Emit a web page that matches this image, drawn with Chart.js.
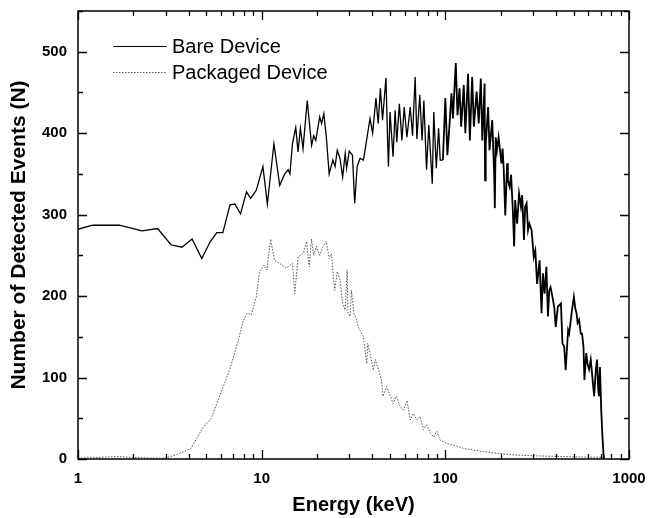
<!DOCTYPE html>
<html>
<head>
<meta charset="utf-8">
<script src="https://cdn.jsdelivr.net/npm/chart.js@4"></script>
<style>
  html, body { margin: 0; padding: 0; background: #fff; }
  #chart { width: 648px; height: 518px; }
</style>
</head>
<body>
<div id="chart"><canvas id="spectrum" width="648" height="518"></canvas></div>
<script>
// values (energy in keV, counts N)
const bareEnergy = [1.0, 1.2, 1.68, 2.23, 2.71, 3.21, 3.68, 4.18, 4.72, 5.25,
  5.7, 6.15, 6.72, 7.15, 7.67, 8.27, 8.71, 9.35, 10.16, 10.74,
  11.66, 12.54, 13.35, 13.93, 14.25, 14.71, 15.33, 15.78, 16.25, 16.8,
  17.7, 18.7, 19.2, 19.7, 20.7, 21.2, 21.8, 22.5, 23.3, 24.4,
  25.1, 25.8, 26.7, 27.6, 28.5, 29.0, 30.0, 31.2, 32.1, 33.1,
  34.3, 35.8, 36.9, 38.9, 40.2, 41.9, 43.1, 44.3, 45.5, 47.5,
  48.5, 49.0, 50.0, 51.9, 53.3, 54.4, 56.2, 58.0, 59.7, 61.8,
  64.4, 66.3, 68.5, 70.0, 72.6, 74.7, 76.4, 79.0, 81.3, 84.9,
  86.5, 89.3, 91.9, 93.8, 97.0, 100, 102.6, 105.5, 108, 110,
  114, 116.5, 119.5, 122, 126, 128.5, 133, 136, 140, 143,
  148, 152, 156, 159, 163.6, 164.5, 166, 171, 174, 180,
  184.5, 186, 188, 191, 195, 202, 205, 208, 212, 217,
  219, 224, 228, 233, 237, 240, 246, 252, 258, 262,
  268, 272, 277, 282, 287, 295, 303, 309, 316, 326,
  334, 340, 347, 355, 362, 368, 374, 383, 392, 399,
  410, 426, 434, 444, 452, 466, 472, 480, 487, 501,
  510, 518, 525, 535, 546, 555, 565, 572, 585, 594,
  606, 619, 632, 646, 660, 670, 680, 686, 695, 700,
  706, 716, 727, 730];
const bareCounts = [282, 287, 287, 280, 283, 263, 260, 270, 246, 267,
  278, 278, 312, 313, 301, 328, 320, 330, 359, 313,
  387, 336, 350, 355, 350, 387, 407, 377, 406, 381,
  440, 385, 397, 391, 420, 412, 424, 395, 350, 367,
  359, 379, 369, 346, 375, 357, 378, 373, 314, 359,
  369, 367, 385, 418, 400, 443, 412, 455, 416, 468,
  391, 359, 426, 371, 428, 389, 436, 391, 432, 395,
  432, 397, 469, 393, 447, 391, 440, 355, 410, 338,
  426, 357, 406, 367, 367, 443, 373, 412, 449, 418,
  486, 422, 455, 408, 459, 400, 473, 391, 469, 408,
  451, 412, 467, 391, 461, 342, 387, 432, 379, 416,
  348, 308, 395, 379, 395, 363, 381, 355, 299, 363,
  342, 334, 349, 306, 261, 318, 289, 326, 310, 324,
  269, 310, 314, 281, 289, 281, 248, 256, 215, 244,
  179, 228, 203, 236, 175, 207, 211, 199, 186, 162,
  187, 191, 142, 138, 109, 158, 154, 167, 179, 199,
  185, 179, 167, 171, 154, 154, 138, 97, 130, 117,
  110, 122, 100, 77, 110, 122, 85, 77, 113, 89,
  60, 30, 5, 0];

const packEnergy = [1.0, 1.3, 1.6, 2.0, 2.5, 2.95, 3.42, 4.12, 4.77, 5.31,
  5.9, 6.68, 7.43, 7.92, 8.32, 8.78, 9.35, 9.74, 10.28, 10.68,
  11.18, 11.75, 12.54, 13.62, 14.71, 15.14, 15.79, 16.83, 17.56, 18.15,
  18.68, 19.2, 19.9, 20.7, 21.6, 22.5, 23.3, 24.0, 24.4, 25.0,
  25.8, 26.7, 27.6, 28.5, 29.2, 29.5, 30.3, 30.8, 31.8, 32.8,
  33.6, 34.3, 35.8, 37.3, 37.8, 38.9, 40.5, 41.5, 43.6, 44.9,
  45.8, 48.0, 49.5, 52.0, 54.0, 56.9, 59.2, 61.8, 64.4, 67.1,
  70.0, 73.0, 76.0, 79.4, 82.7, 86.3, 89.7, 93.8, 101.9, 111,
  126, 142, 162, 191, 236, 292, 444, 730];
const packCounts = [1, 2, 3, 2, 1, 1, 5, 13, 38, 50,
  77, 109, 144, 169, 179, 177, 199, 230, 238, 232,
  270, 244, 240, 234, 240, 203, 248, 252, 267, 236,
  270, 250, 261, 250, 261, 267, 246, 252, 232, 207,
  230, 220, 191, 183, 232, 179, 175, 207, 179, 171,
  162, 158, 150, 117, 142, 130, 109, 122, 107, 97,
  77, 89, 81, 68, 77, 64, 60, 72, 48, 56,
  48, 52, 36, 42, 32, 27, 34, 23, 19, 17,
  13, 11, 9, 7, 5, 4, 3, 2];

const xTickValues = [];
for (const decade of [1, 10, 100]) {
  for (let m = 1; m < 10; m++) xTickValues.push(m * decade);
}
xTickValues.push(1000);
const yTickValues = [0, 50, 100, 150, 200, 250, 300, 350, 400, 450, 500, 550];

const seriesNames = ['Bare Device', 'Packaged Device'];

const FONT = '"Liberation Sans", Arial, Helvetica, sans-serif';

function toPoints(xs, ys) {
  return xs.map((x, i) => ({ x: x, y: ys[i] }));
}

// frame + inward tick marks on all four sides, like the original plot
const framePlugin = {
  id: 'frame',
  afterDatasetsDraw(chart) {
    const { ctx, chartArea: a, scales } = chart;
    ctx.save();
    ctx.strokeStyle = '#000';
    ctx.lineWidth = 1.5;
    ctx.strokeRect(a.left, a.top, a.right - a.left, a.bottom - a.top);
    ctx.lineWidth = 1.3;
    ctx.beginPath();
    xTickValues.forEach(v => {
      const px = Math.round(scales.x.getPixelForValue(v)) + 0.5;
      const len = Number.isInteger(Math.log10(v)) ? 9 : 5;
      ctx.moveTo(px, a.bottom); ctx.lineTo(px, a.bottom - len);
      ctx.moveTo(px, a.top); ctx.lineTo(px, a.top + len);
    });
    yTickValues.forEach(v => {
      const py = Math.round(scales.y.getPixelForValue(v)) + 0.5;
      const len = v % 100 === 0 ? 9 : 5;
      ctx.moveTo(a.left, py); ctx.lineTo(a.left + len, py);
      ctx.moveTo(a.right, py); ctx.lineTo(a.right - len, py);
    });
    ctx.stroke();
    ctx.restore();
  }
};

// legend drawn inside the plot box, top-left
const insideLegend = {
  id: 'insideLegend',
  afterDraw(chart) {
    const { ctx, chartArea: a } = chart;
    ctx.save();
    ctx.font = '20px ' + FONT;
    ctx.textBaseline = 'middle';
    ctx.fillStyle = '#000';
    chart.data.datasets.forEach((ds, i) => {
      const y = a.top + 35 + i * 26;
      ctx.beginPath();
      ctx.strokeStyle = ds.borderColor;
      ctx.lineWidth = 1.2;
      ctx.setLineDash(ds.borderDash || []);
      ctx.moveTo(a.left + 35, y + 0.5);
      ctx.lineTo(a.left + 89, y + 0.5);
      ctx.stroke();
      ctx.setLineDash([]);
      ctx.fillText(ds.label, a.left + 94, y + 1);
    });
    ctx.restore();
  }
};

const chart = new Chart(document.getElementById('spectrum'), {
  type: 'line',
  data: {
    datasets: [
      {
        label: seriesNames[0],
        data: toPoints(bareEnergy, bareCounts),
        borderColor: '#000',
        borderWidth: 1.3,
        // the measured spectrum is very dense above ~100 keV, so draw it heavier there
        segment: {
          borderWidth: ctx => (ctx.p0.parsed.x >= 95 ? 1.8 : 1.3)
        },
        pointRadius: 0,
        tension: 0,
        fill: false
      },
      {
        label: seriesNames[1],
        data: toPoints(packEnergy, packCounts),
        borderColor: '#555',
        borderWidth: 1,
        borderDash: [1.5, 1.5],
        pointRadius: 0,
        tension: 0,
        fill: false
      }
    ]
  },
  options: {
    responsive: false,
    animation: false,
    devicePixelRatio: 1,
    layout: { padding: { top: 11, right: 19, left: 0, bottom: 0 } },
    plugins: { legend: { display: false }, tooltip: { enabled: false } },
    scales: {
      x: {
        type: 'logarithmic',
        min: 1,
        max: 1000,
        grid: { display: false, drawTicks: false },
        border: { display: false },
        afterBuildTicks: scale => {
          scale.ticks = xTickValues.map(v => ({ value: v }));
        },
        afterFit: scale => {
          scale.height = 59;
          scale.paddingLeft = 0;
          scale.paddingRight = 0;
        },
        ticks: {
          autoSkip: false,
          maxRotation: 0,
          padding: 11,
          color: '#000',
          font: { family: FONT, size: 15, weight: 'bold' },
          callback: v => (Number.isInteger(Math.log10(v)) ? String(v) : '')
        },
        title: {
          display: true,
          text: 'Energy (keV)',
          color: '#000',
          font: { family: FONT, size: 20, weight: 'bold' },
          padding: { top: 0, bottom: 1 }
        }
      },
      y: {
        min: 0,
        max: 550,
        grid: { display: false, drawTicks: false },
        border: { display: false },
        afterBuildTicks: scale => {
          scale.ticks = yTickValues.map(v => ({ value: v }));
        },
        afterFit: scale => {
          scale.width = 78;
          scale.paddingTop = 0;
          scale.paddingBottom = 0;
        },
        ticks: {
          padding: 11,
          color: '#000',
          font: { family: FONT, size: 15, weight: 'bold' },
          callback: v => (v % 100 === 0 && v <= 500 ? String(v) : '')
        },
        title: {
          display: true,
          text: 'Number of Detected Events (N)',
          color: '#000',
          font: { family: FONT, size: 21, weight: 'bold' },
          padding: { top: 7, bottom: 0 }
        }
      }
    }
  },
  plugins: [framePlugin, insideLegend]
});
</script>
</body>
</html>
